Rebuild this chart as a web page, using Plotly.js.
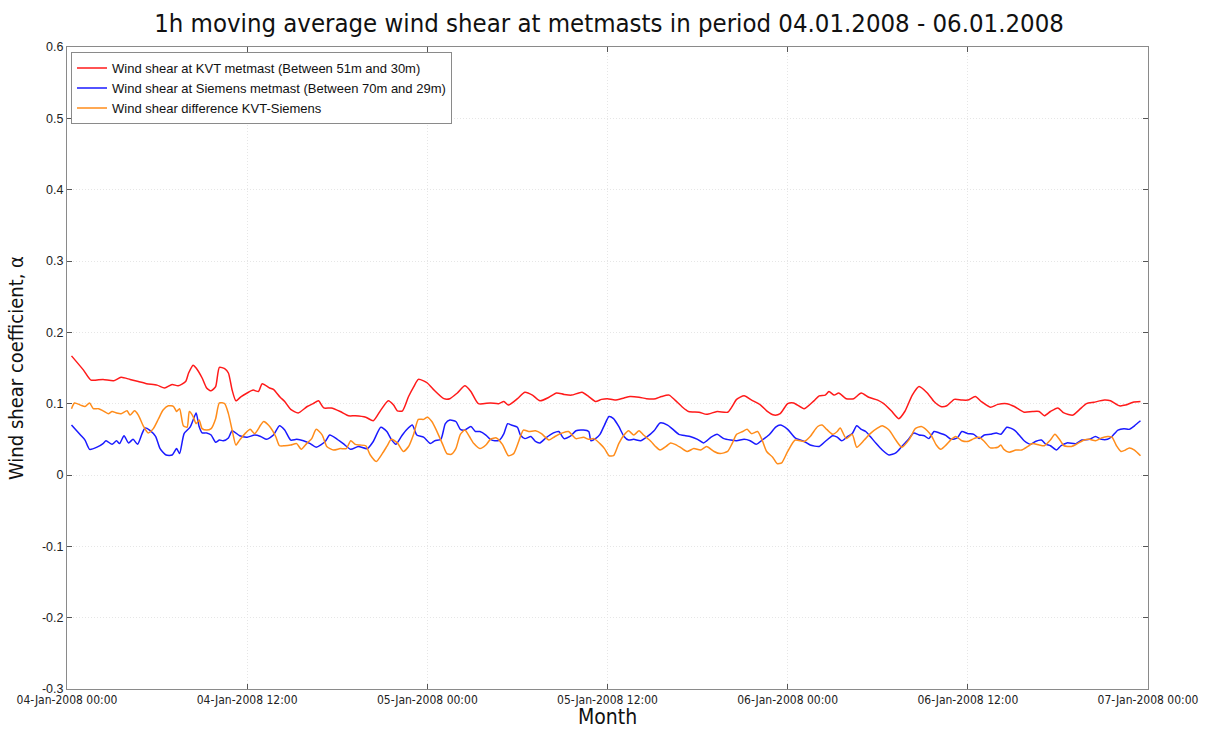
<!DOCTYPE html>
<html>
<head>
<meta charset="utf-8">
<script src="https://cdn.plot.ly/plotly-3.0.1.min.js"></script>
<style>html,body{margin:0;padding:0;background:#fff;}#chart{width:1218px;height:729px;}</style>
</head>
<body>
<div id="chart"></div>
<script>
// Hours since 04-Jan-2008 00:00
const kvtHours = [0.3,1.1,1.6,2.4,3.1,3.6,4.2,4.75,5.3,6.0,6.5,7.0,7.4,7.9,8.1,8.4,8.6,9.0,9.3,9.6,9.9,10.15,10.5,10.75,11.0,11.25,11.6,12.0,12.4,12.75,13.0,13.5,13.75,14.2,14.5,14.9,15.4,16.0,16.4,16.75,17.1,17.6,18.2,18.75,19.2,19.9,20.4,20.9,21.4,21.75,22.0,22.35,22.75,23.1,23.4,23.75,24.0,24.4,25.1,25.5,26.0,26.5,26.9,27.4,28.2,28.75,29.1,29.4,30.0,30.5,31.0,31.5,32.1,32.6,33.1,33.6,34.3,34.75,35.2,35.6,36.0,36.5,37.1,37.5,38.1,38.6,39.2,39.6,40.1,40.5,41.0,41.4,42.1,42.6,43.3,44.0,44.3,44.6,45.1,45.6,46.2,46.6,47.1,47.5,48.0,48.4,49.1,49.75,50.1,50.5,50.75,51.1,51.4,51.9,52.4,52.9,53.4,54.0,54.4,54.9,55.4,55.8,56.3,56.75,57.3,57.75,58.2,58.6,59.1,59.6,60.0,60.5,60.9,61.5,62.0,62.6,63.1,63.75,64.3,64.75,65.1,65.5,66.0,66.4,67.0,67.4,67.9,68.4,69.1,69.5,70.1,70.5,71.0,71.5];
const kvtShear = [0.167,0.147,0.133,0.134,0.132,0.137,0.134,0.131,0.128,0.126,0.122,0.127,0.125,0.131,0.143,0.154,0.150,0.136,0.122,0.118,0.124,0.151,0.149,0.143,0.119,0.104,0.110,0.115,0.119,0.117,0.128,0.122,0.120,0.109,0.103,0.092,0.087,0.096,0.100,0.104,0.094,0.094,0.089,0.083,0.083,0.081,0.076,0.091,0.104,0.098,0.090,0.090,0.110,0.124,0.134,0.132,0.129,0.120,0.107,0.107,0.115,0.125,0.117,0.100,0.101,0.100,0.103,0.098,0.107,0.116,0.112,0.104,0.109,0.115,0.113,0.112,0.116,0.110,0.103,0.106,0.107,0.105,0.108,0.110,0.109,0.107,0.107,0.110,0.112,0.105,0.095,0.089,0.088,0.085,0.089,0.088,0.096,0.106,0.111,0.105,0.098,0.090,0.084,0.086,0.100,0.101,0.093,0.104,0.111,0.112,0.117,0.112,0.115,0.107,0.107,0.115,0.109,0.105,0.100,0.090,0.079,0.089,0.112,0.124,0.115,0.103,0.096,0.097,0.106,0.105,0.105,0.110,0.103,0.095,0.099,0.100,0.096,0.088,0.089,0.089,0.083,0.089,0.094,0.087,0.084,0.091,0.100,0.102,0.105,0.104,0.097,0.098,0.102,0.103];

const siemensHours = [0.3,0.9,1.2,1.5,2.0,2.4,2.6,3.0,3.3,3.5,3.8,4.1,4.4,4.7,5.0,5.2,5.5,5.9,6.2,6.6,7.0,7.3,7.5,7.8,8.2,8.4,8.6,8.8,9.0,9.3,9.6,9.9,10.15,10.4,10.75,11.0,11.5,12.0,12.5,12.9,13.3,13.75,14.15,14.5,14.9,15.3,15.75,16.2,16.6,17.2,17.5,18.0,18.4,18.9,19.4,20.0,20.4,20.9,21.3,21.6,21.9,22.3,22.6,23.0,23.3,23.75,24.2,24.5,24.9,25.2,25.5,25.9,26.2,26.5,26.9,27.2,27.5,27.9,28.2,28.5,28.8,29.1,29.35,29.6,30.0,30.2,30.5,30.9,31.2,31.5,31.9,32.4,32.75,33.1,33.5,33.9,34.4,34.75,34.9,35.2,35.5,35.8,36.1,36.4,36.75,37.1,37.4,37.75,38.2,38.6,39.1,39.5,40.0,40.3,40.75,41.2,41.5,42.0,42.4,42.9,43.3,43.75,44.2,44.6,45.1,45.5,45.9,46.3,46.75,47.2,47.5,48.0,48.5,49.1,49.5,50.1,50.5,51.0,51.3,51.6,52.0,52.3,52.6,52.9,53.2,53.5,53.9,54.3,54.75,55.2,55.6,56.0,56.4,56.75,57.1,57.4,57.75,58.1,58.5,58.9,59.3,59.6,60.0,60.4,60.75,61.1,61.5,61.9,62.2,62.6,63.1,63.5,63.75,64.2,64.5,64.9,65.2,65.5,65.9,66.2,66.6,67.2,67.6,68.1,68.5,68.9,69.3,69.6,70.0,70.4,70.75,71.1,71.5];
const siemensShear = [0.070,0.056,0.049,0.036,0.039,0.044,0.048,0.043,0.048,0.044,0.055,0.045,0.050,0.043,0.058,0.066,0.063,0.054,0.037,0.028,0.028,0.037,0.030,0.058,0.067,0.077,0.087,0.068,0.059,0.059,0.056,0.046,0.049,0.048,0.052,0.062,0.055,0.053,0.056,0.054,0.050,0.056,0.069,0.063,0.049,0.050,0.048,0.044,0.039,0.047,0.056,0.050,0.044,0.036,0.040,0.037,0.047,0.067,0.061,0.050,0.043,0.055,0.063,0.070,0.056,0.053,0.044,0.048,0.050,0.072,0.077,0.075,0.064,0.063,0.068,0.061,0.061,0.056,0.050,0.048,0.049,0.058,0.072,0.070,0.067,0.056,0.051,0.054,0.047,0.045,0.052,0.059,0.061,0.051,0.054,0.062,0.063,0.061,0.048,0.051,0.057,0.070,0.082,0.079,0.068,0.054,0.049,0.050,0.048,0.053,0.062,0.073,0.070,0.065,0.057,0.055,0.054,0.050,0.045,0.053,0.057,0.051,0.049,0.048,0.050,0.048,0.043,0.049,0.056,0.067,0.070,0.064,0.052,0.047,0.042,0.040,0.047,0.055,0.053,0.048,0.054,0.058,0.069,0.064,0.061,0.054,0.044,0.035,0.028,0.031,0.040,0.049,0.059,0.056,0.055,0.051,0.061,0.059,0.056,0.050,0.052,0.061,0.058,0.057,0.051,0.056,0.057,0.059,0.057,0.067,0.063,0.054,0.048,0.043,0.047,0.049,0.043,0.041,0.035,0.041,0.045,0.044,0.049,0.050,0.054,0.050,0.050,0.054,0.063,0.065,0.064,0.069,0.076];

const diffHours = [0.3,0.5,0.9,1.2,1.5,1.75,2.1,2.4,2.75,3.0,3.3,3.6,4.0,4.2,4.5,4.75,5.1,5.4,5.75,6.1,6.4,6.75,7.1,7.3,7.5,7.75,8.0,8.15,8.4,8.6,8.8,9.0,9.3,9.6,9.9,10.15,10.5,10.75,11.0,11.25,11.5,11.9,12.2,12.5,12.9,13.1,13.5,13.9,14.15,14.5,14.9,15.3,15.6,16.0,16.3,16.6,17.0,17.3,17.75,18.2,18.6,18.9,19.2,19.5,19.9,20.2,20.6,21.0,21.3,21.6,22.0,22.4,22.75,23.1,23.4,23.75,24.0,24.3,24.6,25.0,25.3,25.6,25.9,26.2,26.5,26.8,27.1,27.5,27.9,28.2,28.6,29.0,29.4,29.75,30.1,30.4,30.75,31.2,31.6,32.1,32.5,33.0,33.4,33.9,34.4,34.75,35.1,35.5,35.8,36.1,36.4,36.75,37.1,37.4,37.75,38.1,38.4,38.9,39.2,39.5,39.9,40.2,40.5,40.9,41.3,41.75,42.2,42.6,43.1,43.5,44.0,44.3,44.6,45.0,45.3,45.6,46.0,46.3,46.6,47.0,47.3,47.6,48.0,48.5,49.1,49.5,50.0,50.3,50.6,51.0,51.3,51.5,51.9,52.3,52.6,53.1,53.5,54.0,54.3,54.75,55.2,55.6,56.1,56.5,56.9,57.3,57.6,57.9,58.2,58.5,58.9,59.2,59.6,60.0,60.4,60.75,61.1,61.5,62.0,62.2,62.4,62.75,63.2,63.6,64.0,64.3,64.75,65.1,65.5,65.8,66.1,66.4,66.9,67.3,67.75,68.1,68.5,68.9,69.3,69.6,69.9,70.2,70.5,70.75,71.1,71.5];
const diffShear = [0.093,0.101,0.098,0.096,0.101,0.093,0.093,0.090,0.086,0.089,0.087,0.086,0.090,0.084,0.090,0.084,0.068,0.059,0.065,0.079,0.091,0.097,0.096,0.089,0.093,0.069,0.067,0.089,0.082,0.072,0.077,0.065,0.063,0.065,0.079,0.101,0.100,0.086,0.063,0.042,0.049,0.059,0.064,0.058,0.070,0.075,0.068,0.054,0.041,0.041,0.042,0.044,0.036,0.045,0.051,0.064,0.056,0.040,0.035,0.037,0.037,0.048,0.043,0.042,0.041,0.028,0.019,0.030,0.040,0.050,0.045,0.033,0.040,0.058,0.078,0.078,0.081,0.075,0.063,0.044,0.030,0.029,0.037,0.057,0.063,0.054,0.044,0.037,0.042,0.050,0.052,0.043,0.027,0.030,0.048,0.063,0.061,0.062,0.058,0.049,0.054,0.059,0.061,0.051,0.053,0.050,0.051,0.044,0.037,0.027,0.027,0.044,0.056,0.062,0.056,0.062,0.056,0.047,0.040,0.035,0.040,0.045,0.043,0.038,0.033,0.037,0.035,0.040,0.033,0.030,0.033,0.044,0.057,0.061,0.064,0.058,0.061,0.049,0.033,0.025,0.016,0.017,0.033,0.049,0.047,0.054,0.068,0.070,0.064,0.057,0.061,0.066,0.051,0.057,0.039,0.049,0.058,0.066,0.069,0.063,0.049,0.039,0.050,0.065,0.068,0.062,0.054,0.042,0.036,0.041,0.050,0.054,0.048,0.047,0.051,0.053,0.047,0.038,0.039,0.042,0.036,0.032,0.035,0.035,0.040,0.044,0.042,0.041,0.049,0.057,0.050,0.041,0.040,0.044,0.049,0.050,0.048,0.052,0.054,0.053,0.041,0.033,0.035,0.038,0.035,0.027];

const seriesNames = [
  'Wind shear at KVT metmast (Between 51m and 30m)',
  'Wind shear at Siemens metmast (Between 70m and 29m)',
  'Wind shear difference KVT-Siemens'
];
const seriesColors = ['#ff1a1a', '#1a1aff', '#ff8c1a'];
const yTickVals = [-0.3,-0.2,-0.1,0,0.1,0.2,0.3,0.4,0.5,0.6];
const yTickText = ['-0.3','-0.2','-0.1','0','0.1','0.2','0.3','0.4','0.5','0.6'];
const startDate = '2008-01-04 00:00';
const endDate = '2008-01-07 00:00';

function toDate(h) {
  const ms = Date.UTC(2008, 0, 4) + Math.round(h * 3600000);
  const d = new Date(ms);
  const p = n => String(n).padStart(2, '0');
  return d.getUTCFullYear() + '-' + p(d.getUTCMonth()+1) + '-' + p(d.getUTCDate()) + ' ' + p(d.getUTCHours()) + ':' + p(d.getUTCMinutes()) + ':' + p(d.getUTCSeconds());
}

const hoursList = [kvtHours, siemensHours, diffHours];
const shearList = [kvtShear, siemensShear, diffShear];
const traces = hoursList.map((hrs, i) => ({
  type: 'scatter', mode: 'lines',
  x: hrs.map(toDate), y: shearList[i],
  name: seriesNames[i],
  line: {color: seriesColors[i], width: 1.5, shape: 'spline', smoothing: 0.6}
}));

const condensed = '"DejaVu Sans Condensed", "Liberation Sans Narrow", "DejaVu Sans", sans-serif';
const layout = {
  width: 1218, height: 729,
  margin: {l: 67, r: 70, t: 47, b: 40},
  paper_bgcolor: '#ffffff', plot_bgcolor: '#ffffff',
  title: {text: '1h moving average wind shear at metmasts in period 04.01.2008 - 06.01.2008',
          font: {family: condensed, size: 25.5, color: '#111'}, x: 0.5, xanchor: 'center', y: 0.968, yanchor: 'middle'},
  xaxis: {
    type: 'date', range: [startDate, endDate],
    dtick: 12*3600000, tick0: startDate, tickformat: '%d-%b-%Y %H:%M',
    tickfont: {family: condensed, size: 12, color: '#222'},
    ticks: 'inside', ticklen: 5, tickcolor: '#555',
    showgrid: true, gridcolor: '#e6e6e6', griddash: '1px,2px', gridwidth: 1,
    showline: true, linecolor: '#8a8a8a', linewidth: 1, mirror: 'ticks',
    zeroline: false,
    title: {text: 'Month', font: {family: condensed, size: 21, color: '#111'}, standoff: 2}
  },
  yaxis: {
    range: [-0.3, 0.6], tickvals: yTickVals, ticktext: yTickText,
    tickfont: {family: 'Liberation Sans, Arial, sans-serif', size: 12.5, color: '#222'},
    ticks: 'inside', ticklen: 5, tickcolor: '#555',
    showgrid: true, gridcolor: '#e6e6e6', griddash: '1px,2px', gridwidth: 1,
    showline: true, linecolor: '#8a8a8a', linewidth: 1, mirror: 'ticks',
    zeroline: false,
    title: {text: 'Wind shear coefficient, α', font: {family: condensed, size: 20, color: '#111'}, standoff: 12}
  },
  legend: {
    x: 0.0037, y: 0.992, xanchor: 'left', yanchor: 'top',
    bgcolor: '#ffffff', bordercolor: '#8a8a8a', borderwidth: 1,
    font: {family: 'Liberation Sans, Arial, sans-serif', size: 13, color: '#111'},
    tracegroupgap: 0, itemwidth: 30
  },
  showlegend: true
};

Plotly.newPlot('chart', traces, layout, {displayModeBar: false, staticPlot: true});
</script>
</body>
</html>
